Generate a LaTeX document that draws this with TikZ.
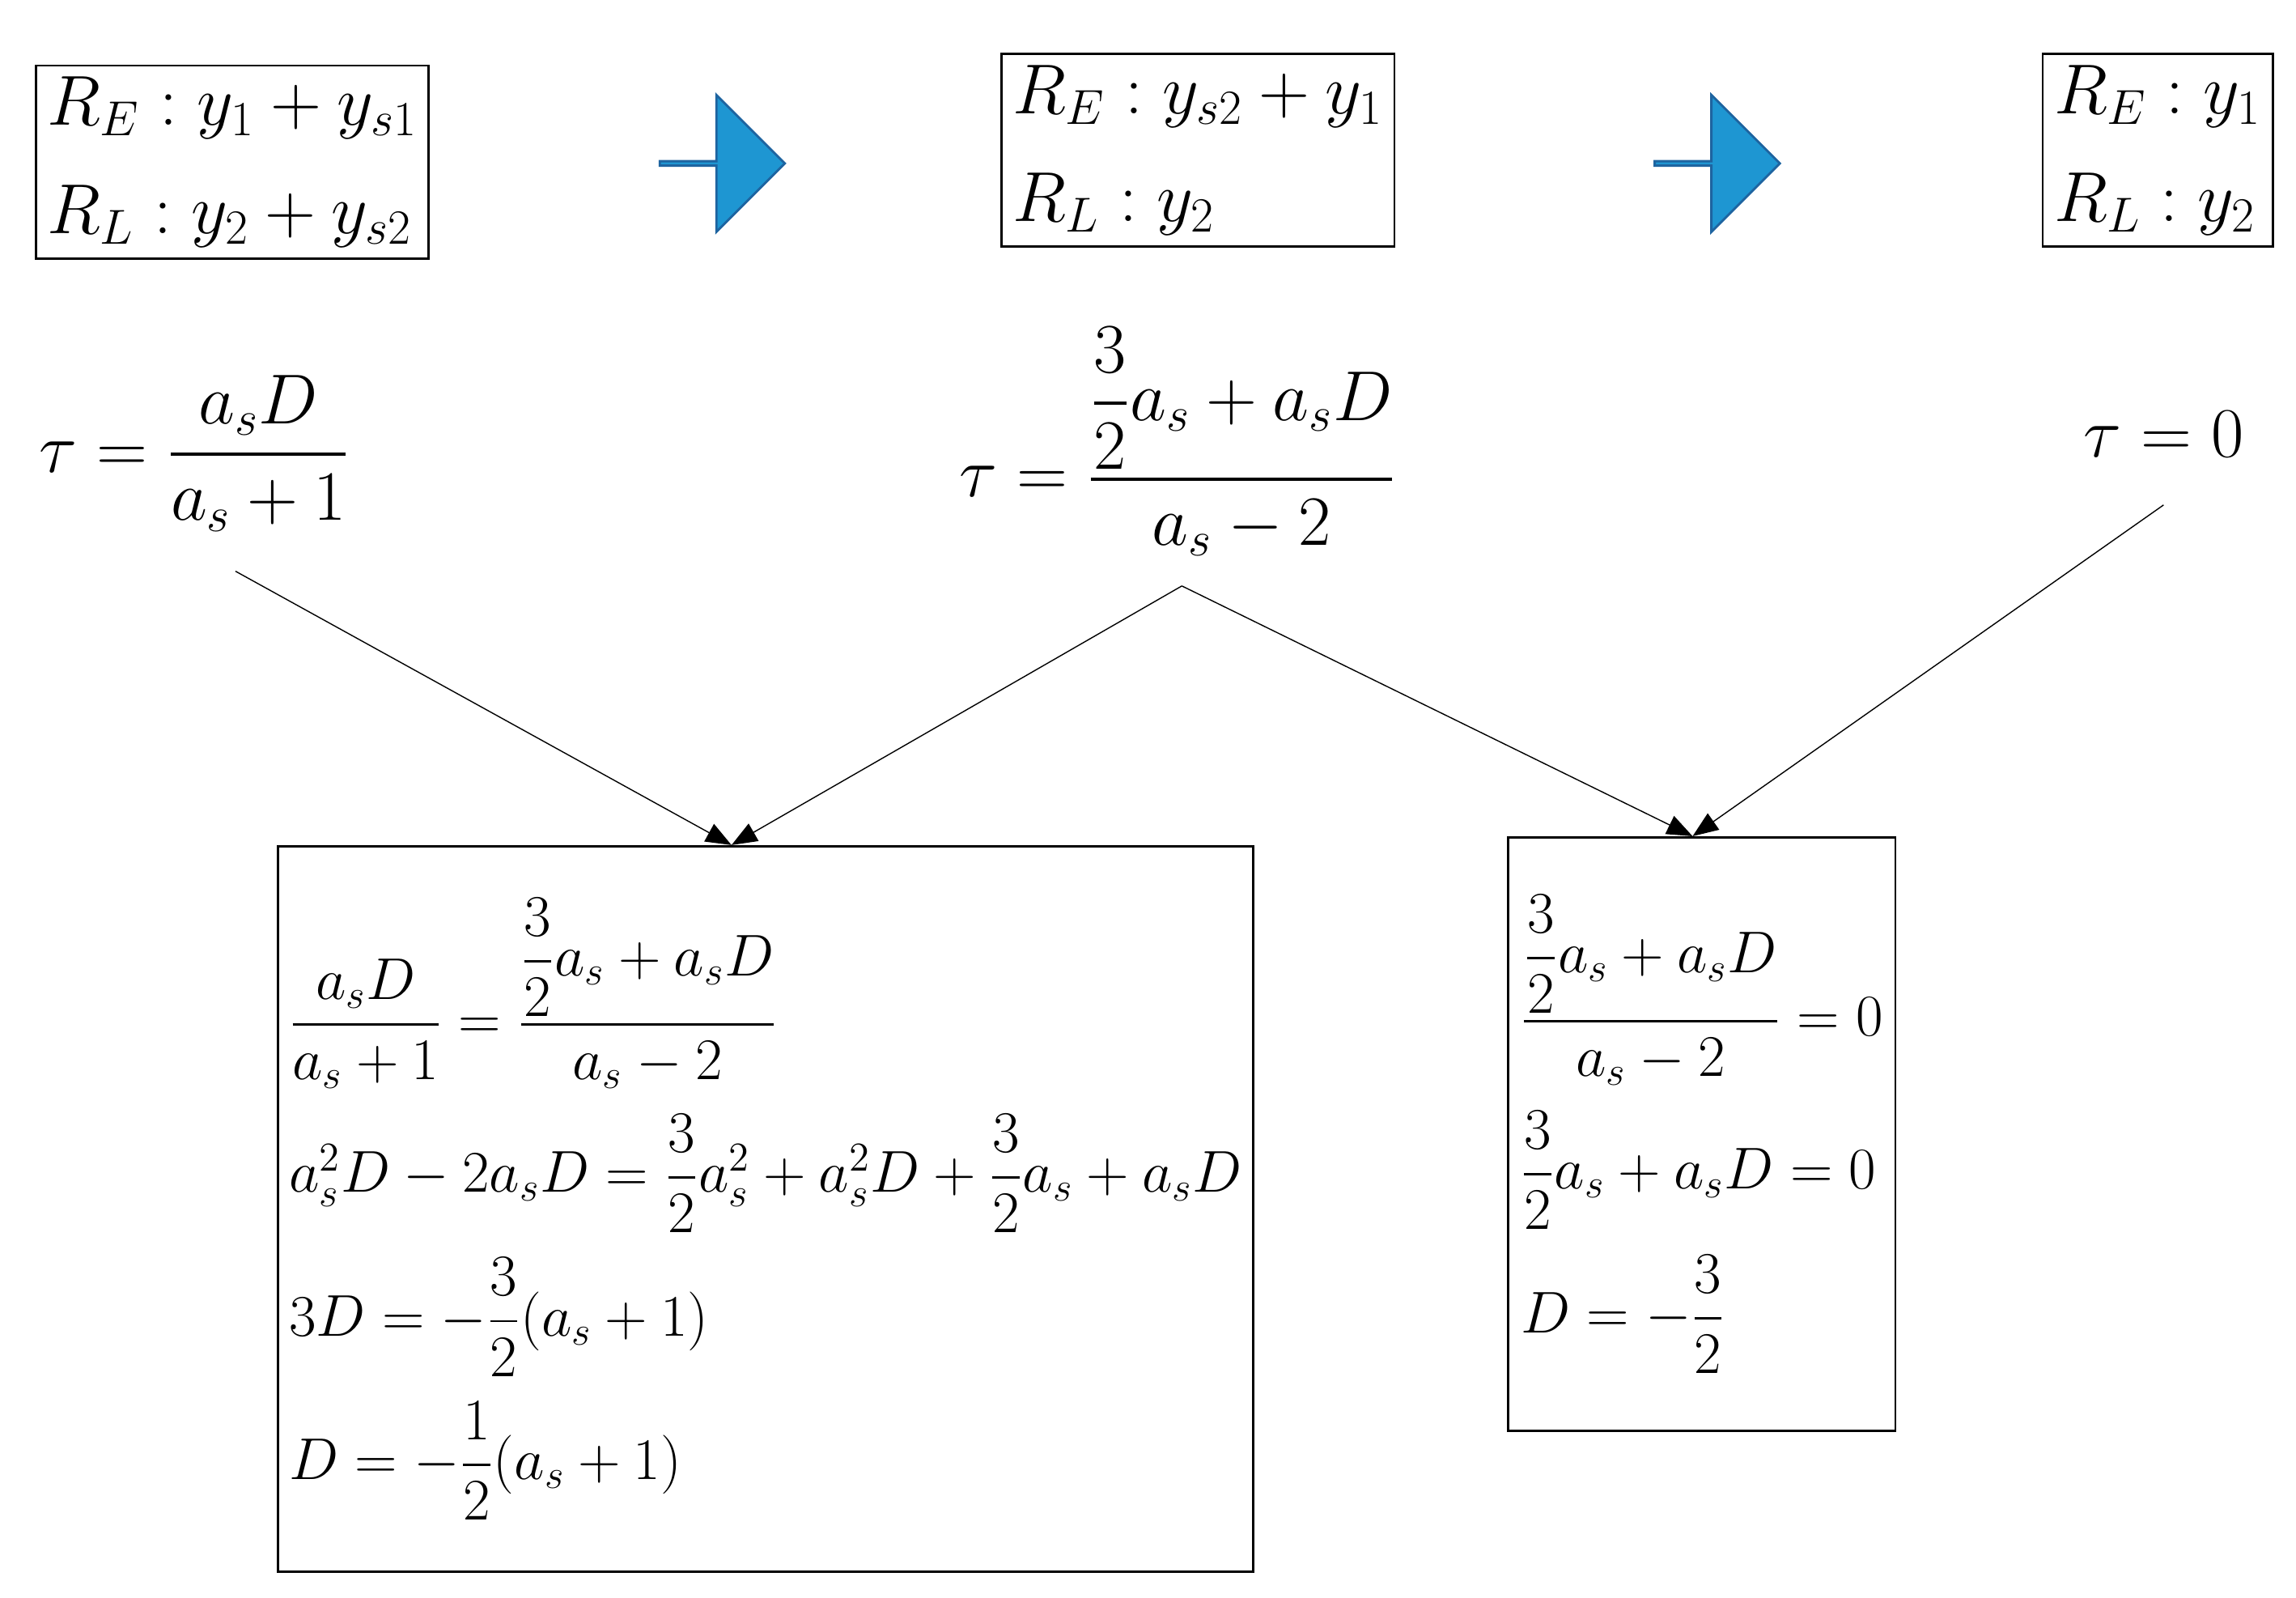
\documentclass[tikz,border=0pt]{standalone}
\usepackage{fontspec}
\setmainfont{Liberation Serif}
\usepackage{amsmath}
\usetikzlibrary{shapes.arrows,arrows.meta}
\definecolor{bluearrow}{RGB}{30,150,210}
\definecolor{bluedark}{RGB}{30,100,160}
\begin{document}
\begin{tikzpicture}[x=0.0182cm,y=-0.0182cm,
  state/.style={draw, thick, inner sep=4pt, font=\fontsize{26}{34}\selectfont, align=left},
  eqbox/.style={draw, thick, inner sep=4pt, font=\fontsize{20}{24}\selectfont, align=left, anchor=north west},
  big/.style={font=\fontsize{26}{34}\selectfont},
  blockarrow/.style={single arrow, draw=bluedark, fill=bluearrow, thick, minimum width=93*0.0182cm, single arrow head extend=23*0.0182cm, minimum height=85*0.0182cm, inner sep=0pt},
  link/.style={-{Triangle[length=9pt,width=7pt]}}]
\useasboundingbox (0,0) rectangle (1560,1085);
% top states
\node [state] (s1) at (158,110) {$R_E: y_1+y_{s1}$\\[4pt]$R_L: y_2+y_{s2}$};
\node [state] (s2) at (814,102) {$R_E: y_{s2}+y_1$\\[4pt]$R_L: y_2$};
\node [state] (s3) at (1466,102) {$R_E: y_1$\\[4pt]$R_L: y_2$};
\node [blockarrow] (a1) at (490,111) {};
\node [blockarrow] (a2) at (1166,111) {};
% delays
\node [big] (t1) at (132,308) {$\tau=\dfrac{a_sD}{a_s+1}$};
\node [big] (t2) at (800,300) {$\tau=\dfrac{\dfrac{3}{2}a_s+a_sD}{a_s-2}$};
\node [big] (t3) at (1470,295) {$\tau=0$};
% results
\node [eqbox, minimum width=624*0.0182cm, minimum height=493*0.0182cm] (r1) at (188,574) {%
$\dfrac{a_sD}{a_s+1}=\dfrac{\dfrac{3}{2}a_s+a_sD}{a_s-2}$\\[8pt]
$a_s^2D-2a_sD=\dfrac{3}{2}a_s^2+a_s^2D+\dfrac{3}{2}a_s+a_sD$\\[8pt]
$3D=-\dfrac{3}{2}(a_s+1)$\\[8pt]
$D=-\dfrac{1}{2}(a_s+1)$};
\node [eqbox, minimum width=263*0.0182cm, minimum height=403*0.0182cm] (r2) at (1024,568) {%
$\dfrac{\dfrac{3}{2}a_s+a_sD}{a_s-2}=0$\\[8pt]
$\dfrac{3}{2}a_s+a_sD=0$\\[8pt]
$D=-\dfrac{3}{2}$};
\coordinate (p1) at (160,388);
\coordinate (p2) at (803,398);
\coordinate (p3) at (1470,343);
\coordinate (q1) at (497,574);
\coordinate (q2) at (1150,568);
\draw [link] (p1) -- (q1);
\draw [link] (p2) -- (q1);
\draw [link] (p2) -- (q2);
\draw [link] (p3) -- (q2);
\end{tikzpicture}
\end{document}
